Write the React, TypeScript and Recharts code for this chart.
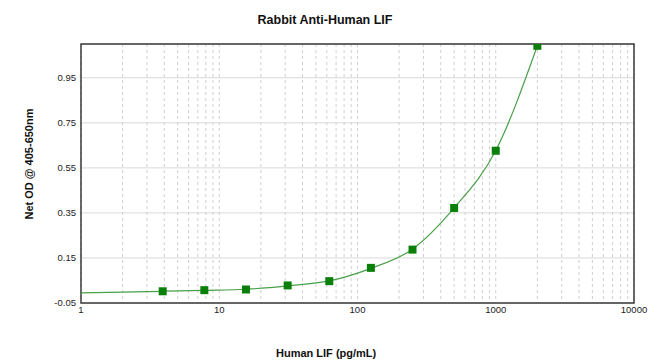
import {
  ComposedChart,
  Line,
  Scatter,
  XAxis,
  YAxis,
  CartesianGrid,
  ReferenceArea,
} from "recharts";

// standard points (pg/mL) and measured OD
const concentrations = [3.9, 7.8, 15.6, 31.25, 62.5, 125, 250, 500, 1000, 2000];
const odValues = [0.002, 0.007, 0.01, 0.028, 0.047, 0.106, 0.187, 0.372, 0.626, 1.092];

// fitted curve
const curveConc = [1, 2, 3.9, 7.8, 15.6, 31.25, 62.5, 125, 250, 500, 1000, 2000];
const curveOd = [-0.005, -0.002, 0.002, 0.006, 0.011, 0.026, 0.048, 0.104, 0.189, 0.372, 0.627, 1.092];

const majorTicks = [1, 10, 100, 1000, 10000];
const decades = [1, 10, 100, 1000];
const multipliers = [1, 2, 3, 4, 5, 6, 7, 8, 9];
const xGridTicks = [...decades.flatMap((d) => multipliers.map((m) => d * m)), 10000];
const yTicks = [-0.05, 0.15, 0.35, 0.55, 0.75, 0.95];

const points = concentrations.map((x, i) => ({ x, y: odValues[i] }));
const curve = curveConc.map((x, i) => ({ x, y: curveOd[i] }));

const font = '"Liberation Sans", Arial, sans-serif';

export default function App() {
  return (
    <div
      style={{
        position: "absolute",
        left: 0,
        top: 0,
        width: 650,
        height: 363,
        background: "#fff",
        fontFamily: font,
      }}
    >
      <div
        style={{
          position: "absolute",
          top: 13,
          left: 0,
          width: 650,
          textAlign: "center",
          fontWeight: "bold",
          fontSize: 12.5,
          lineHeight: "14px",
          color: "#111",
        }}
      >
        Rabbit Anti-Human LIF
      </div>
      <ComposedChart
        width={650}
        height={363}
        margin={{ top: 44, right: 16, bottom: 40, left: 0 }}
      >
        <CartesianGrid vertical={false} stroke="#d9d9d9" />
        <CartesianGrid horizontal={false} stroke="#cfcfcf" strokeDasharray="3 3" />
        <XAxis
          dataKey="x"
          type="number"
          scale="log"
          domain={[1, 10000]}
          allowDataOverflow
          ticks={xGridTicks}
          interval={0}
          tickFormatter={(v: number) => (majorTicks.includes(v) ? String(v) : "")}
          tickLine={false}
          axisLine={false}
          tickSize={0}
          tickMargin={3}
          height={20}
          tick={{ fontSize: 9.5, fill: "#222", fontFamily: font }}
        />
        <YAxis
          type="number"
          domain={[-0.05, 1.1]}
          allowDataOverflow
          ticks={yTicks}
          interval={0}
          tickFormatter={(v: number) => v.toFixed(2)}
          tickLine={false}
          axisLine={false}
          tickSize={0}
          tickMargin={5}
          width={81}
          tick={{ fontSize: 9.5, fill: "#222", fontFamily: font }}
        />
        <ReferenceArea
          x1={1}
          x2={10000}
          y1={-0.05}
          y2={1.1}
          fill="none"
          stroke="#3a3a3a"
          strokeWidth={1.5}
          ifOverflow="visible"
        />
        <Line
          data={curve}
          dataKey="y"
          type="monotone"
          stroke="#48a048"
          strokeWidth={1.2}
          dot={false}
          activeDot={false}
          isAnimationActive={false}
        />
        <Scatter
          data={points}
          dataKey="y"
          shape="square"
          fill="#0a7f0a"
          size={49}
          isAnimationActive={false}
        />
      </ComposedChart>
      <div
        style={{
          position: "absolute",
          top: 346,
          left: 276,
          width: 100,
          textAlign: "center",
          whiteSpace: "nowrap",
          fontWeight: "bold",
          fontSize: 11,
          lineHeight: "14px",
          color: "#111",
        }}
      >
        Human LIF (pg/mL)
      </div>
      <div
        style={{
          position: "absolute",
          left: 29,
          top: 164,
          transform: "translate(-50%, -50%) rotate(-90deg)",
          whiteSpace: "nowrap",
          fontWeight: "bold",
          fontSize: 11,
          lineHeight: "14px",
          color: "#111",
        }}
      >
        Net OD @ 405-650nm
      </div>
    </div>
  );
}
